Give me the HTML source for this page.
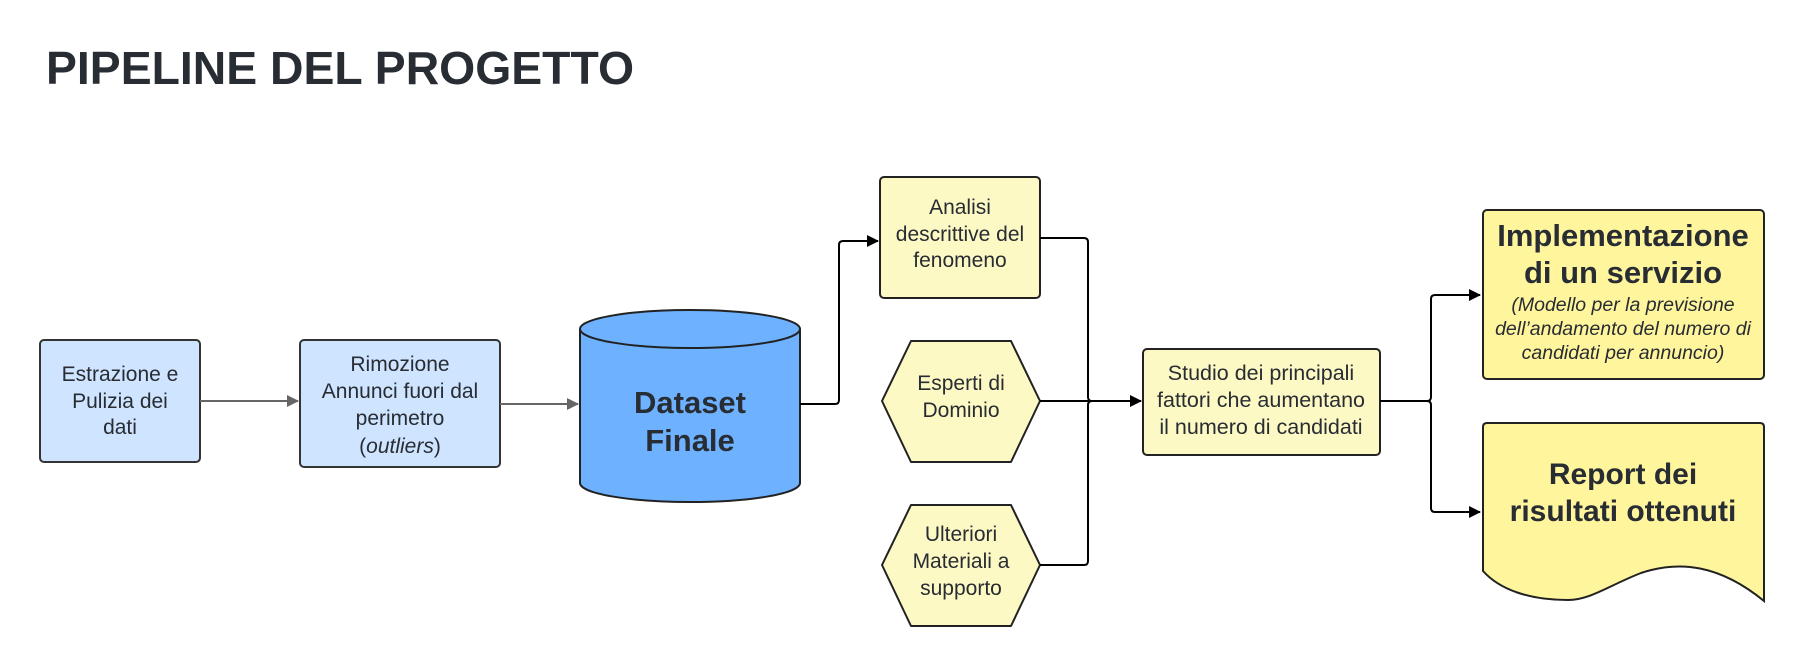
<!DOCTYPE html>
<html><head><meta charset="utf-8"><style>
html,body{margin:0;padding:0;background:#fff;width:1799px;height:663px;overflow:hidden}
text{font-family:"Liberation Sans",sans-serif;fill:#282c33}
</style></head><body>
<svg width="1799" height="663" viewBox="0 0 1799 663" xmlns="http://www.w3.org/2000/svg">
<defs>
<marker id="ag" markerWidth="12" markerHeight="12" refX="11" refY="6" orient="auto" markerUnits="userSpaceOnUse"><path d="M0,0 L12,6 L0,12 Z" fill="#666"/></marker>
<marker id="ab" markerWidth="12" markerHeight="12" refX="11" refY="6" orient="auto" markerUnits="userSpaceOnUse"><path d="M0,0 L12,6 L0,12 Z" fill="#000"/></marker>
</defs>
<text x="46" y="84" font-size="46" font-weight="bold" textLength="588" lengthAdjust="spacingAndGlyphs">PIPELINE DEL PROGETTO</text>

<rect x="40" y="340" width="160" height="122" rx="4" fill="#cfe4ff" stroke="#333" stroke-width="2"/>
<g font-size="21" text-anchor="middle">
<text x="120" y="381">Estrazione e</text><text x="120" y="408">Pulizia dei</text><text x="120" y="434">dati</text>
</g>
<line x1="200" y1="401" x2="298" y2="401" stroke="#666" stroke-width="2" marker-end="url(#ag)"/>
<rect x="300" y="340" width="200" height="127" rx="4" fill="#cfe4ff" stroke="#333" stroke-width="2"/>
<g font-size="21" text-anchor="middle">
<text x="400" y="371">Rimozione</text><text x="400" y="398">Annunci fuori dal</text><text x="400" y="425">perimetro</text><text x="400" y="453">(<tspan font-style="italic">outliers</tspan>)</text>
</g>
<line x1="500" y1="404" x2="578" y2="404" stroke="#666" stroke-width="2" marker-end="url(#ag)"/>
<path d="M580,329 L580,483 A110,19 0 0 0 800,483 L800,329" fill="#6db1ff" stroke="#222" stroke-width="2"/>
<ellipse cx="690" cy="329" rx="110" ry="19" fill="#6db1ff" stroke="#222" stroke-width="2"/>
<g font-size="31" font-weight="bold" text-anchor="middle">
<text x="690" y="413">Dataset</text><text x="690" y="451">Finale</text>
</g>
<path d="M800,404 L835,404 Q839,404 839,400 L839,245 Q839,241 843,241 L878,241" fill="none" stroke="#000" stroke-width="2" marker-end="url(#ab)"/>

<rect x="880" y="177" width="160" height="121" rx="4" fill="#fdf9c4" stroke="#222" stroke-width="2"/>
<g font-size="21" text-anchor="middle">
<text x="960" y="214">Analisi</text><text x="960" y="241">descrittive del</text><text x="960" y="267">fenomeno</text>
</g>
<path d="M911,341 L1011,341 L1040,401 L1011,462 L911,462 L882,401 Z" fill="#fdf9c4" stroke="#222" stroke-width="2" stroke-linejoin="round"/>
<g font-size="21" text-anchor="middle">
<text x="961" y="390">Esperti di</text><text x="961" y="417">Dominio</text>
</g>
<path d="M911,505 L1011,505 L1040,565 L1011,626 L911,626 L882,565 Z" fill="#fdf9c4" stroke="#222" stroke-width="2" stroke-linejoin="round"/>
<g font-size="21" text-anchor="middle">
<text x="961" y="541">Ulteriori</text><text x="961" y="568">Materiali a</text><text x="961" y="595">supporto</text>
</g>
<path d="M1040,238 L1084,238 Q1088,238 1088,242 L1088,397 Q1088,401 1092,401" fill="none" stroke="#000" stroke-width="2"/>
<path d="M1040,565 L1084,565 Q1088,565 1088,561 L1088,405 Q1088,401 1092,401" fill="none" stroke="#000" stroke-width="2"/>
<line x1="1040" y1="401" x2="1141" y2="401" stroke="#000" stroke-width="2" marker-end="url(#ab)"/>
<rect x="1143" y="349" width="237" height="106" rx="4" fill="#fdf9c4" stroke="#222" stroke-width="2"/>
<g font-size="21.5" text-anchor="middle">
<text x="1261" y="380">Studio dei principali</text><text x="1261" y="407">fattori che aumentano</text><text x="1261" y="434">il numero di candidati</text>
</g>
<path d="M1380,401 L1427,401 Q1431,401 1431,397 L1431,299 Q1431,295 1435,295 L1480,295" fill="none" stroke="#000" stroke-width="2" marker-end="url(#ab)"/>
<path d="M1380,401 L1427,401 Q1431,401 1431,405 L1431,508 Q1431,512 1435,512 L1480,512" fill="none" stroke="#000" stroke-width="2" marker-end="url(#ab)"/>
<rect x="1483" y="210" width="281" height="169" rx="4" fill="#fff59c" stroke="#222" stroke-width="2"/>
<g text-anchor="middle">
<text x="1623" y="246" font-size="31" font-weight="bold">Implementazione</text>
<text x="1623" y="283" font-size="31" font-weight="bold">di un servizio</text>
<g font-size="19.5" font-style="italic">
<text x="1623" y="311">(Modello per la previsione</text><text x="1623" y="335">dell’andamento del numero di</text><text x="1623" y="359">candidati per annuncio)</text>
</g>
</g>
<path d="M1487,423 L1760,423 Q1764,423 1764,427 L1764,601 C1720,565 1680,560 1641,573 C1610,585 1590,600 1568,600 C1530,600 1500,590 1483,571 L1483,427 Q1483,423 1487,423 Z" fill="#fff59c" stroke="#222" stroke-width="2"/>
<g font-size="30" font-weight="bold" text-anchor="middle">
<text x="1623" y="484">Report dei</text><text x="1623" y="521">risultati ottenuti</text>
</g>
</svg>
</body></html>
